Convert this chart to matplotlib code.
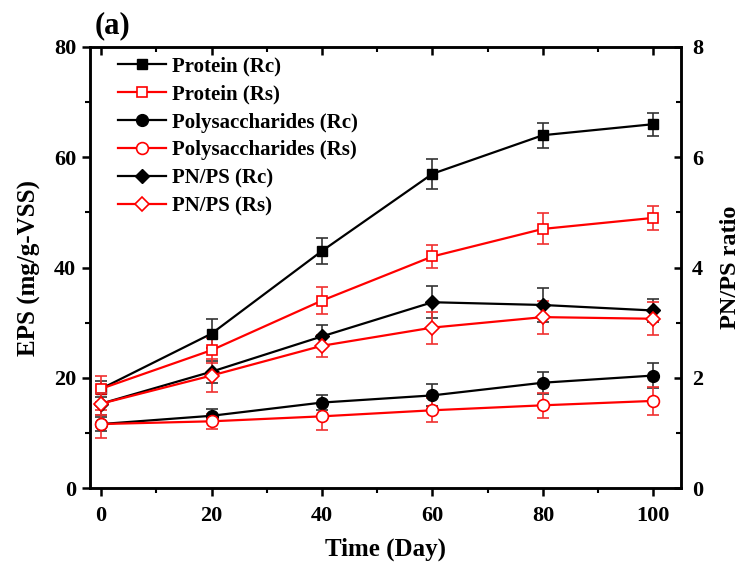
import matplotlib
matplotlib.use("Agg")
import matplotlib.pyplot as plt
from matplotlib.ticker import MultipleLocator
from matplotlib.lines import TICKDOWN

plt.rcParams['font.family'] = ['Liberation Serif', 'DejaVu Serif']
plt.rcParams['font.weight'] = 'bold'

days = [0, 20, 40, 60, 80, 100]

protein_rc = [18.0, 28.0, 43.0, 57.0, 64.0, 66.0]
protein_rc_err = [1.5, 2.6, 2.4, 2.7, 2.3, 2.1]
protein_rs = [18.0, 25.0, 34.0, 42.0, 47.0, 49.0]
protein_rs_err = [2.4, 2.3, 2.4, 2.0, 2.8, 2.2]
poly_rc = [11.6, 13.1, 15.5, 16.8, 19.1, 20.4]
poly_rc_err = [1.2, 1.2, 1.4, 2.0, 2.0, 2.3]
poly_rs = [11.6, 12.1, 13.0, 14.1, 15.0, 15.8]
poly_rs_err = [2.5, 1.4, 2.5, 2.2, 2.3, 2.6]
pnps_rc = [1.53, 2.11, 2.75, 3.37, 3.32, 3.22]
pnps_rc_err = [0.2, 0.2, 0.2, 0.29, 0.3, 0.2]
pnps_rs = [1.53, 2.04, 2.58, 2.91, 3.10, 3.07]
pnps_rs_err = [0.2, 0.3, 0.2, 0.29, 0.3, 0.3]

fig = plt.figure(figsize=(7.46, 5.70), dpi=100)
ax = fig.add_axes([90/746, 1-488/570, (681-90)/746, (488-47)/570])
ax2 = ax.twinx()

BLACK = 'black'
RED = '#ff0000'
common = dict(lw=1.6, capsize=4, elinewidth=1.2, capthick=1.2)

h1 = ax.errorbar(days, protein_rc, yerr=protein_rc_err, color=BLACK, ecolor='#333333',
                 marker='s', ms=7.5, mfc=BLACK, mec=BLACK, label='Protein (Rc)', **common)
h2 = ax.errorbar(days, protein_rs, yerr=protein_rs_err, color=RED, ecolor='#f03030',
                 marker='s', ms=7.5, mfc='white', mec=RED, mew=1.2, label='Protein (Rs)', **common)
h3 = ax.errorbar(days, poly_rc, yerr=poly_rc_err, color=BLACK, ecolor='#333333',
                 marker='o', ms=8.5, mfc=BLACK, mec=BLACK, label='Polysaccharides (Rc)', **common)
h4 = ax.errorbar(days, poly_rs, yerr=poly_rs_err, color=RED, ecolor='#f03030',
                 marker='o', ms=8.5, mfc='white', mec=RED, mew=1.2, label='Polysaccharides (Rs)', **common)
h5 = ax2.errorbar(days, pnps_rc, yerr=pnps_rc_err, color=BLACK, ecolor='#333333',
                  marker='D', ms=7.5, mfc=BLACK, mec=BLACK, label='PN/PS (Rc)', **common)
h6 = ax2.errorbar(days, pnps_rs, yerr=pnps_rs_err, color=RED, ecolor='#f03030',
                  marker='D', ms=7.5, mfc='white', mec=RED, mew=1.2, label='PN/PS (Rs)', **common)

ax.set_xlim(-2, 105)
ax.set_ylim(0, 80)
ax2.set_ylim(0, 8)

ax.xaxis.set_major_locator(MultipleLocator(20))
ax.xaxis.set_minor_locator(MultipleLocator(10))
ax.yaxis.set_major_locator(MultipleLocator(20))
ax.yaxis.set_minor_locator(MultipleLocator(10))
ax2.yaxis.set_major_locator(MultipleLocator(2))
ax2.yaxis.set_minor_locator(MultipleLocator(1))

for a in (ax, ax2):
    for s in a.spines.values():
        s.set_linewidth(1.8)

ax.tick_params(axis='x', which='major', direction='out', length=6, width=1.8, labelsize=16, pad=7,
               top=True)
ax.tick_params(axis='x', which='minor', direction='out', length=3.5, width=1.5, top=True)
ax.tick_params(axis='y', which='major', direction='out', length=6, width=1.8, labelsize=16, pad=4)
ax.tick_params(axis='y', which='minor', direction='out', length=3.5, width=1.5)
ax2.tick_params(axis='y', which='major', direction='in', length=5, width=1.8, labelsize=16, pad=8)
ax2.tick_params(axis='y', which='minor', direction='in', length=3.5, width=1.5)
for t in ax.xaxis.get_major_ticks() + ax.xaxis.get_minor_ticks():
    t.tick2line.set_marker(TICKDOWN)

for lbl in ax.get_xticklabels() + ax.get_yticklabels() + ax2.get_yticklabels():
    lbl.set_fontweight('bold')

ax.set_xlabel('Time (Day)', fontsize=18, fontweight='bold', labelpad=8)
ax.set_ylabel('EPS (mg/g-VSS)', fontsize=18, fontweight='bold', labelpad=9)
ax2.set_ylabel('PN/PS ratio', fontsize=17.5, fontweight='bold', labelpad=12)

fig.text(95/746, 1-33/570, '(a)', fontsize=22, fontweight='bold', ha='left', va='baseline')

handles = [h[0] for h in (h1, h2, h3, h4, h5, h6)]
labels = [h.get_label() for h in (h1, h2, h3, h4, h5, h6)]
leg = ax.legend(handles, labels, loc='upper left', bbox_to_anchor=(0.047, 0.978),
                frameon=False, borderpad=0, borderaxespad=0, numpoints=1,
                handlelength=2.3, handletextpad=0.3, labelspacing=0.38,
                prop={'size': 15, 'weight': 'bold'})

fig.savefig('out.png', dpi=100)
